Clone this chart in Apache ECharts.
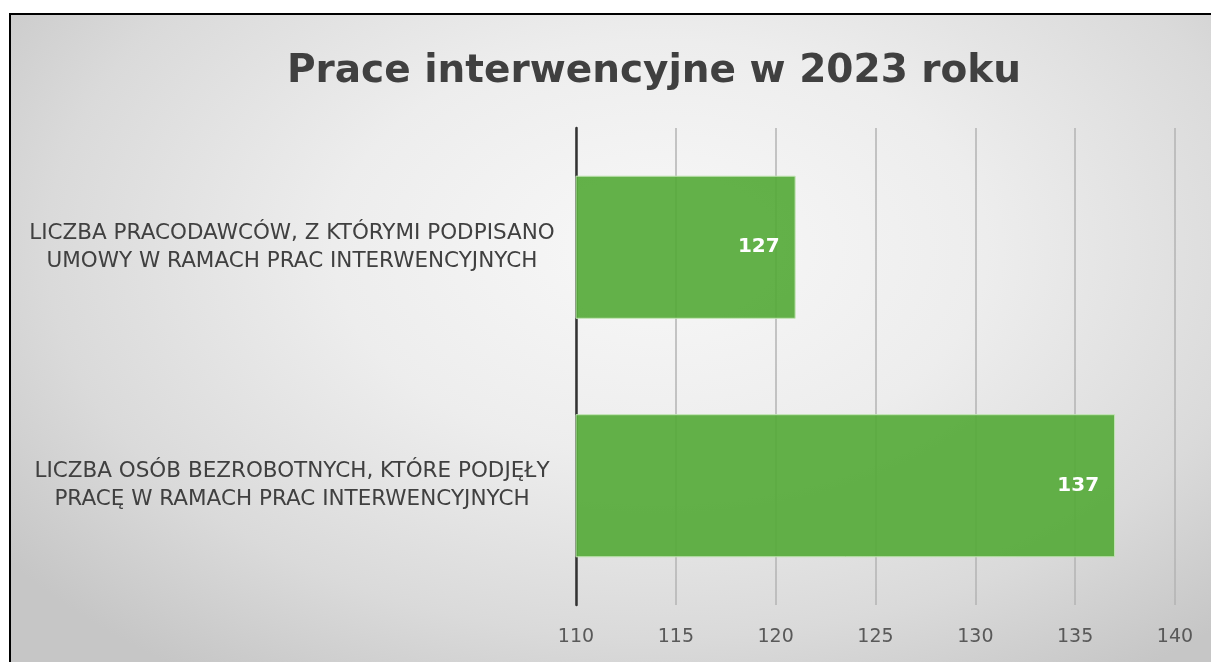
<!DOCTYPE html>
<html>
<head>
<meta charset="utf-8">
<script src="https://cdn.jsdelivr.net/npm/echarts@6/dist/echarts.min.js"></script>
<style>
  html, body { margin: 0; padding: 0; background: #ffffff; width: 1211px; height: 662px; overflow: hidden; }
  #frame { position: absolute; left: 9px; top: 13px; width: 1202px; height: 649px; border-left: 2px solid #000; border-top: 2px solid #000;
    background: radial-gradient(ellipse 68% 80% at 54% 36%, #f8f8f8 0%, #ededed 40%, #dadada 75%, #c6c6c6 100%); }
  #chart { position: absolute; left: 0; top: 0; width: 1200px; height: 647px; }
</style>
</head>
<body>
<div id="frame"><div id="chart"></div></div>
<script>
const titleText = 'Prace interwencyjne w 2023 roku';
const categories = [
  'LICZBA PRACODAWCÓW, Z KTÓRYMI PODPISANO\nUMOWY W RAMACH PRAC INTERWENCYJNYCH',
  'LICZBA OSÓB BEZROBOTNYCH, KTÓRE PODJĘŁY\nPRACĘ W RAMACH PRAC INTERWENCYJNYCH'
];
// bar lengths as drawn in the picture
const barValues = [121, 137];
// data labels as printed on the bars
const barLabels = ['127', '137'];
const axisMin = 110, axisMax = 140, axisStep = 5;

const chart = echarts.init(document.getElementById('chart'), null, { renderer: 'canvas' });
chart.setOption({
  backgroundColor: 'transparent',
  animation: false,
  title: {
    text: titleText,
    left: 638,
    top: 32,
    textAlign: 'center',
    textStyle: { fontFamily: 'DejaVu Sans', fontWeight: 'bold', fontSize: 39, color: '#404040' }
  },
  grid: { left: 565, right: 36, top: 113, bottom: 57, containLabel: false },
  xAxis: {
    type: 'value',
    min: axisMin, max: axisMax, interval: axisStep,
    axisLine: { show: false },
    axisTick: { show: false },
    splitLine: { show: true, lineStyle: { color: '#b3b3b3', width: 1.5 } },
    axisLabel: { margin: 23, fontFamily: 'DejaVu Sans', fontSize: 19, color: '#595959' }
  },
  yAxis: {
    type: 'category',
    inverse: true,
    data: categories,
    axisLine: { show: true, lineStyle: { color: '#333333', width: 2.5 } },
    axisTick: { show: false },
    axisLabel: {
      align: 'center',
      margin: 284,
      fontFamily: 'DejaVu Sans',
      fontSize: 21.5,
      lineHeight: 28,
      color: '#404040'
    }
  },
  series: [{
    type: 'bar',
    data: barValues,
    barCategoryGap: '40%',
    itemStyle: { color: 'rgba(86,170,57,0.92)', borderColor: '#c2e4b4', borderWidth: 1 },
    label: {
      show: true,
      position: 'insideRight',
      distance: 16,
      formatter: p => barLabels[p.dataIndex],
      fontFamily: 'DejaVu Sans',
      fontWeight: 'bold',
      fontSize: 20,
      color: '#ffffff'
    }
  }]
});
</script>
</body>
</html>
